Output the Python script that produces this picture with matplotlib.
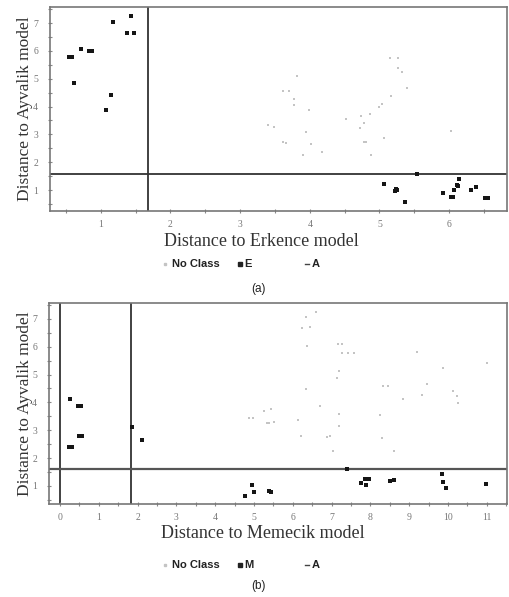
import matplotlib
matplotlib.use("Agg")
import matplotlib.pyplot as plt
from matplotlib.lines import Line2D
from matplotlib.ticker import MultipleLocator

# ---------------- Panel (a): Erkence vs Ayvalik ----------------
a_e_x = [0.54, 0.59, 0.71, 0.83, 0.87, 0.62, 1.18, 1.14, 1.08, 1.43, 1.38, 1.48]
a_e_y = [5.77, 5.77, 6.05, 6.00, 6.00, 4.84, 7.02, 4.43, 3.88, 7.24, 6.66, 6.66]

a_a_x = [5.07, 5.22, 5.24, 5.25, 5.37, 5.54, 5.91, 6.03, 6.05, 6.07, 6.11, 6.12, 6.14, 6.32, 6.38, 6.52, 6.56]
a_a_y = [1.21, 0.97, 1.03, 1.00, 0.58, 1.59, 0.90, 0.75, 0.75, 1.00, 1.17, 1.15, 1.40, 1.00, 1.12, 0.73, 0.73]

a_n_x = [3.40, 3.49, 3.61, 3.70, 3.82, 3.77, 3.78, 3.61, 3.66, 3.99, 3.94, 4.01, 3.90, 4.18,
         4.52, 4.73, 4.72, 4.78, 4.87, 4.78, 4.81, 4.88, 5.00, 5.04, 5.06, 5.16, 5.15, 5.27,
         5.26, 5.33, 5.39, 6.03]
a_n_y = [3.35, 3.27, 4.56, 4.56, 5.08, 4.27, 4.07, 2.74, 2.68, 3.88, 3.10, 2.66, 2.25, 2.38,
         3.55, 3.65, 3.23, 3.40, 3.73, 2.74, 2.74, 2.25, 3.98, 4.10, 2.86, 4.38, 5.73, 5.73,
         5.40, 5.25, 4.65, 3.13]

a_vline = 1.68
a_hline = 1.57

# ---------------- Panel (b): Memecik vs Ayvalik ----------------
b_m_x = [0.26, 0.47, 0.54, 0.24, 0.32, 0.50, 0.56, 1.87, 2.11]
b_m_y = [4.11, 3.87, 3.87, 2.40, 2.40, 2.78, 2.78, 3.12, 2.66]

b_a_x = [4.77, 4.96, 5.00, 5.39, 5.45, 7.39, 7.76, 7.87, 7.96, 7.88, 8.51, 8.62, 9.84, 9.86, 9.96, 10.97]
b_a_y = [0.62, 1.02, 0.77, 0.80, 0.78, 1.60, 1.10, 1.24, 1.24, 1.02, 1.17, 1.22, 1.43, 1.14, 0.94, 1.06]

b_n_x = [4.88, 4.98, 5.26, 5.43, 5.33, 5.39, 5.52, 6.33, 6.59, 6.25, 6.45, 6.36, 6.34, 6.70,
         6.14, 6.21, 6.88, 6.97, 7.04, 7.18, 7.20, 7.14, 7.20, 7.16, 7.28, 7.26, 7.43, 7.58,
         8.25, 8.29, 8.33, 8.45, 8.62, 8.83, 9.19, 9.34, 9.45, 9.86, 10.13, 10.22, 10.25, 11.01]
b_n_y = [3.43, 3.43, 3.69, 3.75, 3.27, 3.27, 3.29, 7.06, 7.26, 6.68, 6.70, 6.03, 4.47, 3.87,
         3.37, 2.78, 2.77, 2.80, 2.27, 3.16, 3.59, 4.86, 5.12, 6.09, 6.09, 5.77, 5.77, 5.77,
         3.56, 2.72, 4.57, 4.57, 2.27, 4.11, 5.80, 4.28, 4.66, 5.25, 4.42, 4.24, 3.99, 5.43]

b_vlines = [0.0, 1.83]
b_hline = 1.60

x_ticks_a = [1, 2, 3, 4, 5, 6]
y_ticks = [1, 2, 3, 4, 5, 6, 7]
x_ticks_b = list(range(0, 12))

fig = plt.figure(figsize=(5.09, 5.97), dpi=100)
serif = ['Liberation Serif', 'DejaVu Serif']
sans = ['Liberation Sans', 'DejaVu Sans']

ax1 = fig.add_axes([0.0982, 0.6466, 0.8978, 0.3414])
ax2 = fig.add_axes([0.0963, 0.1558, 0.8997, 0.3367])

nc_col = '#c4c4c4'
spine_col = '#777777'

def style(ax, xt, xlim, ylim):
    ax.set_xlim(*xlim)
    ax.set_ylim(*ylim)
    ax.set_xticks(xt)
    ax.set_yticks(y_ticks)
    ax.xaxis.set_minor_locator(MultipleLocator(0.5))
    ax.yaxis.set_minor_locator(MultipleLocator(0.5))
    ax.tick_params(which='both', direction='inout', length=3, width=0.8, color='#888888',
                   labelsize=7, labelcolor='#777777')
    ax.tick_params(axis='y', pad=7)
    ax.tick_params(axis='x', pad=5)
    for lab in ax.get_xticklabels() + ax.get_yticklabels():
        lab.set_family(serif)
    for s in ax.spines.values():
        s.set_color(spine_col)
        s.set_linewidth(1.2)

# panel a
ax1.scatter(a_n_x, a_n_y, s=4, marker='s', color=nc_col, linewidths=0, zorder=2)
ax1.scatter(a_e_x, a_e_y, s=8, marker='s', color='#151515', linewidths=0, zorder=3)
ax1.scatter(a_a_x, a_a_y, s=8, marker='s', color='#151515', linewidths=0, zorder=3)
ax1.axvline(a_vline, color='#333333', lw=1.3, zorder=1)
ax1.axhline(a_hline, color='#333333', lw=1.3, zorder=1)
style(ax1, x_ticks_a, (0.27, 6.83), (0.25, 7.57))
ax1.set_xlabel('Distance to Erkence model', family=serif, fontsize=13, color='#333333')
ax1.set_ylabel('Distance to Ayvalik model', family=serif, fontsize=12.5, color='#333333')
ax1.xaxis.set_label_coords(0.463, -0.11)
ax1.yaxis.set_label_coords(-0.037, 0.5)

# panel b
ax2.scatter(b_n_x, b_n_y, s=4, marker='s', color=nc_col, linewidths=0, zorder=2)
ax2.scatter(b_m_x, b_m_y, s=8, marker='s', color='#151515', linewidths=0, zorder=3)
ax2.scatter(b_a_x, b_a_y, s=8, marker='s', color='#151515', linewidths=0, zorder=3)
for v in b_vlines:
    ax2.axvline(v, color='#333333', lw=1.3, zorder=1)
ax2.axhline(b_hline, color='#555555', lw=1.6, zorder=1)
style(ax2, x_ticks_b, (-0.28, 11.52), (0.35, 7.57))
ax2.set_xlabel('Distance to Memecik model', family=serif, fontsize=13, color='#333333')
ax2.set_ylabel('Distance to Ayvalik model', family=serif, fontsize=12.5, color='#333333')
ax2.xaxis.set_label_coords(0.467, -0.105)
ax2.yaxis.set_label_coords(-0.035, 0.5)

W, H = 509.0, 597.0

def legend_row(ypix, mid_label):
    y = 1 - ypix / H
    fig.add_artist(Line2D([165 / W], [y], marker='s', ms=2, color=nc_col, lw=0,
                          transform=fig.transFigure))
    fig.text(172 / W, y, 'No Class', family=sans, fontsize=8, weight='bold', color='#222222',
             va='center', ha='left')
    fig.add_artist(Line2D([240 / W], [y], marker='s', ms=2.5, color='#222222', lw=0,
                          transform=fig.transFigure))
    fig.text(244 / W, y, mid_label, family=sans, fontsize=8, weight='bold', color='#222222',
             va='center', ha='left')
    fig.add_artist(Line2D([305 / W, 309 / W], [y, y], color='#444444', lw=1,
                          transform=fig.transFigure))
    fig.text(312 / W, y, 'A', family=sans, fontsize=8, weight='bold', color='#222222',
             va='center', ha='left')

legend_row(264, 'E')
legend_row(565, 'M')

fig.text(258 / W, 1 - 289 / H, '(a)', family=sans, fontsize=8.5, color='#222222', ha='center', va='center')
fig.text(258 / W, 1 - 586 / H, '(b)', family=sans, fontsize=8.5, color='#222222', ha='center', va='center')

fig.savefig('out.png', dpi=100)
